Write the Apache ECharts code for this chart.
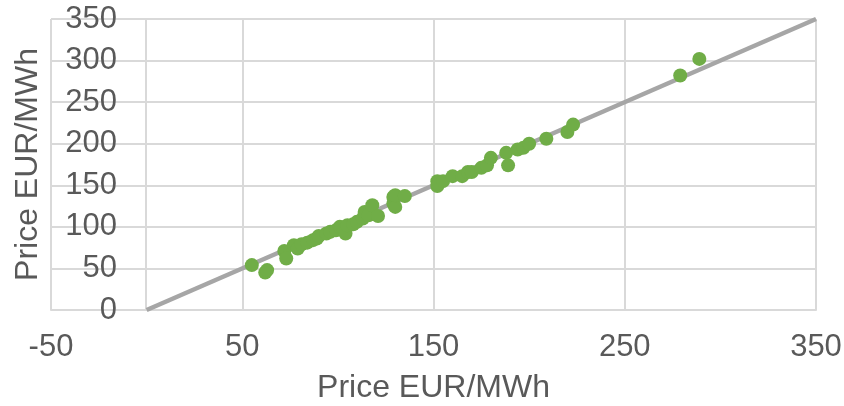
<!DOCTYPE html>
<html>
<head>
<meta charset="utf-8">
<script src="https://cdn.jsdelivr.net/npm/echarts@6/dist/echarts.min.js"></script>
<style>
  html, body { margin: 0; padding: 0; background: #fff; }
  #chart { width: 844px; height: 406px; }
</style>
</head>
<body>
<div id="chart"></div>
<script>
// price pairs (x, y)
const priceX = [55, 62, 63, 72, 73, 77, 79, 81, 84, 87, 89, 90, 94, 96, 99, 101, 103, 104, 105, 108,
  110, 113, 114, 116, 118, 121, 129, 129, 130, 130, 135, 152, 152, 155, 160, 165, 168, 170, 175, 178,
  180, 188, 189, 194, 197, 200, 209, 220, 223, 279, 289];
const priceY = [54, 45, 48, 71, 62, 78, 74, 79, 81, 84, 86, 89, 92, 94, 96, 100, 97, 92, 102, 103,
  106, 110, 118, 114, 126, 113, 136, 128, 124, 138, 137, 155, 149, 155, 161, 161, 166, 166, 171, 174,
  183, 189, 174, 193, 195, 200, 206, 214, 223, 282, 302];
// reference diagonal
const lineX = [0, 350];
const lineY = [0, 350];

const chart = echarts.init(document.getElementById('chart'));
const font = 'Liberation Sans, Arial, sans-serif';
const gridColor = '#d9d9d9';
const textColor = '#595959';

chart.setOption({
  animation: false,
  grid: { left: 51, right: 28, top: 19, bottom: 96, containLabel: false, outerBoundsMode: 'none' },
  xAxis: {
    type: 'value',
    min: -50,
    max: 350,
    interval: 100,
    name: 'Price EUR/MWh',
    nameLocation: 'middle',
    nameGap: 62,
    nameTextStyle: { color: textColor, fontSize: 32, fontFamily: font },
    axisLine: { show: true, onZero: true, lineStyle: { color: gridColor, width: 2 } },
    axisTick: { show: false },
    axisLabel: { color: textColor, fontSize: 31, fontFamily: font, margin: 22 },
    splitLine: { show: true, lineStyle: { color: gridColor, width: 2 } }
  },
  yAxis: {
    type: 'value',
    min: 0,
    max: 350,
    interval: 50,
    position: 'left',
    // y axis sits at x = 0 (grid spans -50..350 over 765px)
    offset: -95,
    name: 'Price EUR/MWh',
    nameLocation: 'middle',
    nameGap: 102,
    nameTextStyle: { color: textColor, fontSize: 32, fontFamily: font },
    axisLine: { show: true, onZero: false, lineStyle: { color: gridColor, width: 2 } },
    axisTick: { show: false },
    axisLabel: { color: textColor, fontSize: 31, fontFamily: font, margin: 29 },
    splitLine: { show: true, lineStyle: { color: gridColor, width: 2 } }
  },
  series: [
    {
      type: 'line',
      data: lineX.map((x, i) => [x, lineY[i]]),
      showSymbol: false,
      symbol: 'none',
      lineStyle: { color: '#a6a6a6', width: 4.5 },
      z: 2
    },
    {
      type: 'scatter',
      data: priceX.map((x, i) => [x, priceY[i]]),
      symbolSize: 14,
      itemStyle: { color: '#70ad47', opacity: 1 },
      z: 3
    }
  ]
});
</script>
</body>
</html>
